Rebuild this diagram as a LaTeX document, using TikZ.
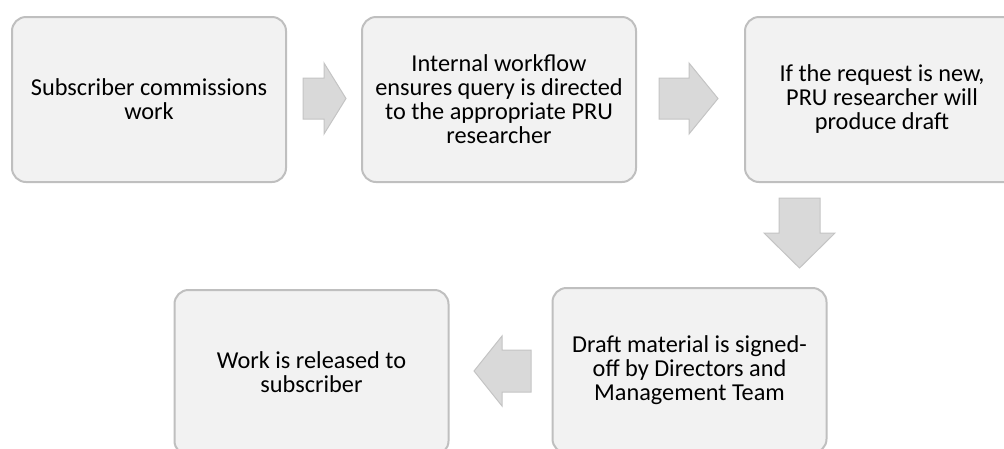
\documentclass[tikz,border=0pt]{standalone}
\usepackage{fontspec}
\setmainfont{Carlito}
\definecolor{boxfill}{HTML}{F2F2F2}
\definecolor{boxline}{HTML}{BFBFBF}
\definecolor{arrowfill}{HTML}{D9D9D9}
\definecolor{arrowline}{HTML}{C4C4C4}
\tikzset{
  stepbox/.style={draw=boxline, fill=boxfill, line width=2pt, rounded corners=14pt,
    minimum width=274pt, minimum height=165pt, align=center, inner sep=0pt,
    font=\fontsize{24.3}{24}\selectfont, text=black},
  blockarrow/.style={draw=arrowline, fill=arrowfill, line width=1pt, line join=miter}
}
\begin{document}
\begin{tikzpicture}[x=1pt, y=-1pt]
  \useasboundingbox (0,0) rectangle (1004,448);
  \clip (0,0) rectangle (1004,448);

  % process steps
  \node[stepbox] (commission) at (149,99.5) {Subscriber commissions\\work};
  \node[stepbox] (workflow) at (499,99.5) {Internal workflow\\ensures query is directed\\to the appropriate PRU\\researcher};
  \node[stepbox] (draft) at (882,99.5) {If the request is new,\\PRU researcher will\\produce draft};
  \node[stepbox] (signoff) at (689.5,370.5) {Draft material is signed-\\off by Directors and\\Management Team};
  \node[stepbox] (release) at (311.5,372.5) {Work is released to\\subscriber};

  % block arrows between the steps
  \draw[blockarrow] (303,78) -- (324,78) -- (324,63) -- (346,98.5) -- (324,134) -- (324,119) -- (303,119) -- cycle;
  \draw[blockarrow] (659,78) -- (689,78) -- (689,63) -- (718,98.5) -- (689,134) -- (689,119) -- (659,119) -- cycle;
  \draw[blockarrow] (779,198) -- (820,198) -- (820,233) -- (835,233) -- (799.5,268) -- (764,233) -- (779,233) -- cycle;
  \draw[blockarrow] (531,350) -- (502,350) -- (502,336) -- (474,371) -- (502,406) -- (502,392) -- (531,392) -- cycle;
\end{tikzpicture}
\end{document}
